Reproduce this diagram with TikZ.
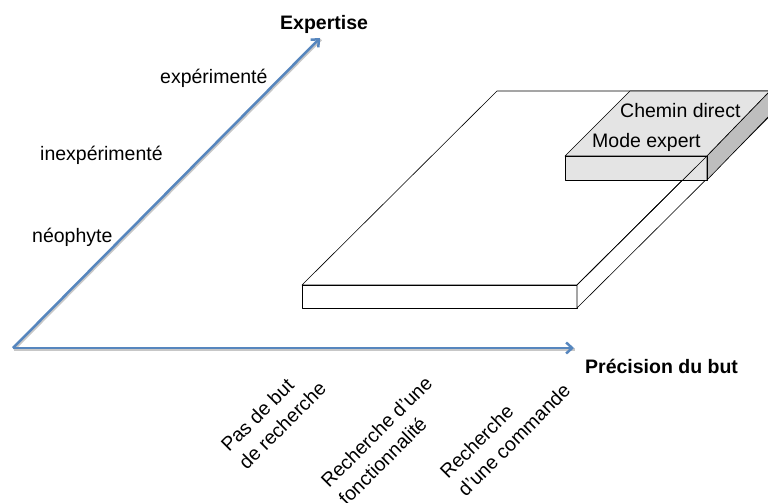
\documentclass[tikz,border=0pt]{standalone}
\usepackage{fontspec}
\setmainfont{Liberation Sans}
\usetikzlibrary{arrows.meta}
\definecolor{axisblue}{RGB}{86,134,190}
\definecolor{boxgrey}{RGB}{228,228,228}
\definecolor{sidegrey}{RGB}{190,190,190}
\begin{document}
\begin{tikzpicture}[x=1pt,y=-1pt,
 lbl/.style={font=\fontsize{19.5}{25}\selectfont, inner sep=0pt, anchor=base west},
 hdr/.style={lbl, font=\fontsize{19.5}{25}\selectfont\bfseries},
 rot/.style={font=\fontsize{19.5}{25}\selectfont, inner sep=0pt, rotate=45, align=left, anchor=west},
 axisline/.style={draw=axisblue, line width=2.5pt, -{Straight Barb[length=6pt,width=11pt]}},
 shadowline/.style={draw=black!22, line width=2.5pt},
 face/.style={draw=black, line width=0.6pt, line join=round}]
\useasboundingbox (0,0) rectangle (768,503);
% axes
\coordinate (O) at (13,348);
\coordinate (X) at (574,348);
\coordinate (Y) at (320,38);
\draw[shadowline] ([shift={(1,1.5)}]O) -- ([shift={(1,1.5)}]X);
\draw[shadowline] ([shift={(1,1.5)}]O) -- ([shift={(1,1.5)}]Y);
\draw[axisline] (O) -- (X);
\draw[axisline] (O) -- (Y);
% slab
\coordinate (A) at (302,285);
\coordinate (B) at (577,285);
\coordinate (C) at (577,308);
\coordinate (D) at (302,308);
\coordinate (E) at (497,91);
\coordinate (F) at (772,91);
\coordinate (G) at (772,114);
\filldraw[face, fill=white] (A) -- (E) -- (F) -- (B) -- cycle;
\filldraw[face, fill=white] (A) -- (B) -- (C) -- (D) -- cycle;
\filldraw[face, fill=white] (B) -- (F) -- (G) -- (C) -- cycle;
% box
\coordinate (P) at (565,156);
\coordinate (Q) at (707,156);
\coordinate (R) at (707,180);
\coordinate (S) at (565,180);
\coordinate (T) at (630,91);
\coordinate (U) at (770,91);
\coordinate (V) at (770,115);
\fill[boxgrey] (P) -- (Q) -- (R) -- (S) -- cycle;
\draw[face] (B) -- (Q);
\filldraw[face, fill=boxgrey] (P) -- (T) -- (U) -- (Q) -- cycle;
\filldraw[face, fill=sidegrey] (Q) -- (U) -- (V) -- (R) -- cycle;
\draw[face] (P) -- (Q) -- (R) -- (S) -- cycle;
% labels
\node[hdr] (expertise) at (280,30) {Expertise};
\node[hdr] (precision) at (585,373) {Précision du but};
\node[lbl] (exp) at (160,83) {expérimenté};
\node[lbl] (inexp) at (40,160) {inexpérimenté};
\node[lbl] (neo) at (32,242) {néophyte};
\node[lbl] (chemin) at (620,117) {Chemin direct};
\node[lbl] (mode) at (592,147) {Mode expert};
\node[rot] (pas) at (233,457) {Pas de but\\de recherche};
\node[rot] (fonc) at (333,493) {Recherche d’une\\fonctionnalité};
\node[rot] (cmd) at (452,484) {Recherche\\d’une commande};
\end{tikzpicture}
\end{document}
